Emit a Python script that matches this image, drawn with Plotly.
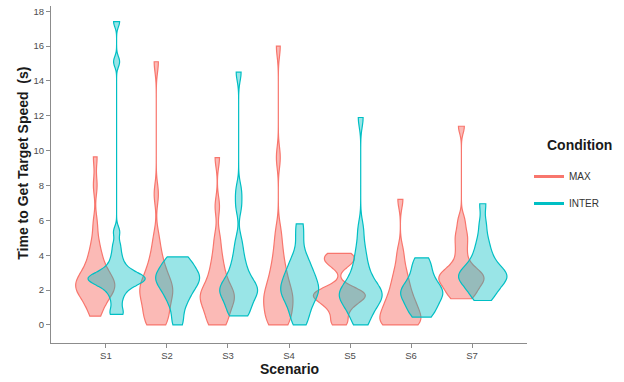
import plotly.graph_objects as go

scenarios = ["S1", "S2", "S3", "S4", "S5", "S6", "S7"]
conditions = ["MAX", "INTER"]

# Time to get target speed (s), per scenario, condition MAX
max_s1 = [0.5, 0.8, 1.1, 1.4, 1.6, 1.8, 1.9, 2.0, 2.1, 2.2, 2.3, 2.4, 2.5, 2.6, 2.7, 2.9, 3.1, 3.3, 3.6, 3.9, 4.3, 4.8, 5.8, 8.0, 9.64]
max_s2 = [0.0, 0.0, 0.2, 0.5, 0.8, 1.0, 1.2, 1.5, 1.7, 1.9, 2.0, 2.1, 2.3, 2.5, 2.7, 3.0, 3.3, 3.7, 4.2, 5.0, 7.5, 15.1]
max_s3 = [0.0, 0.0, 0.3, 0.6, 0.9, 1.1, 1.3, 1.5, 1.6, 1.7, 1.8, 2.0, 2.2, 2.5, 2.8, 3.2, 3.6, 4.2, 5.0, 6.8, 9.6]
max_s4 = [0.0, 0.0, 0.2, 0.4, 0.7, 0.9, 1.1, 1.3, 1.5, 1.6, 1.8, 2.0, 2.2, 2.5, 2.8, 3.1, 3.5, 4.0, 4.6, 5.4, 9.6, 16.0]
max_s5 = [0.0, 0.3, 0.7, 1.0, 1.2, 1.4, 1.5, 1.6, 1.7, 1.8, 1.9, 2.0, 2.2, 3.4, 3.6, 3.8, 4.0, 4.1]
max_s6 = [0.0, 0.0, 0.0, 0.0, 0.2, 0.4, 0.5, 0.7, 0.9, 1.0, 1.2, 1.4, 1.6, 1.9, 2.2, 2.5, 2.9, 3.4, 4.2, 7.2]
max_s7 = [1.5, 1.6, 1.8, 2.0, 2.2, 2.4, 2.5, 2.6, 2.7, 2.8, 2.9, 3.0, 3.2, 3.4, 3.9, 4.4, 4.9, 5.3, 6.0, 11.4]

# condition INTER
inter_s1 = [0.6, 0.7, 1.2, 1.6, 1.9, 2.1, 2.3, 2.4, 2.5, 2.55, 2.6, 2.65, 2.7, 2.75, 2.8, 2.9, 3.0, 3.2, 3.4, 3.7, 4.1, 4.6, 5.35, 15.1, 17.4]
inter_s2 = [0.0, 0.4, 1.0, 1.3, 1.6, 1.8, 2.0, 2.2, 2.3, 2.5, 2.6, 2.7, 2.8, 2.9, 3.0, 3.2, 3.4, 3.6, 3.8, 3.9]
inter_s3 = [0.52, 0.6, 0.8, 1.1, 1.4, 1.6, 1.8, 1.9, 2.0, 2.1, 2.2, 2.4, 2.6, 2.9, 3.2, 3.6, 4.1, 4.8, 6.8, 7.7, 14.5]
inter_s4 = [0.0, 0.3, 0.7, 1.0, 1.3, 1.5, 1.7, 1.9, 2.0, 2.1, 2.3, 2.5, 2.7, 2.9, 3.1, 3.4, 3.7, 4.1, 5.0, 5.8]
inter_s5 = [0.0, 0.2, 0.6, 0.9, 1.1, 1.3, 1.5, 1.6, 1.7, 1.8, 1.9, 2.0, 2.2, 2.4, 2.7, 3.0, 3.4, 3.9, 4.5, 5.5, 11.9]
inter_s6 = [0.45, 0.6, 0.8, 1.0, 1.2, 1.4, 1.6, 1.7, 1.8, 1.9, 2.0, 2.1, 2.3, 2.5, 2.7, 3.0, 3.3, 3.6, 3.85]
inter_s7 = [1.4, 1.6, 1.9, 2.1, 2.3, 2.5, 2.6, 2.7, 2.8, 2.9, 3.0, 3.1, 3.3, 3.5, 3.8, 4.1, 4.5, 5.0, 5.8, 6.95]

max_data = [max_s1, max_s2, max_s3, max_s4, max_s5, max_s6, max_s7]
inter_data = [inter_s1, inter_s2, inter_s3, inter_s4, inter_s5, inter_s6, inter_s7]

# styling: kernel bandwidths and drawn widths (category units) per violin
max_bw = [0.55, 0.6, 0.55, 0.6, 0.3, 0.5, 0.4]
inter_bw = [0.3, 0.45, 0.5, 0.5, 0.55, 0.45, 0.45]
max_width = [0.64, 0.54, 0.56, 0.48, 0.85, 0.67, 0.74]
inter_width = [0.93, 0.72, 0.62, 0.62, 0.70, 0.69, 0.79]

colors = {"MAX": "#F8766D", "INTER": "#00BFC4"}
fills = {"MAX": "rgba(248,118,109,0.5)", "INTER": "rgba(0,191,196,0.4)"}
dodge = {"MAX": -0.175, "INTER": 0.175}

fig = go.Figure()
for cond, data, bws, wids in [("MAX", max_data, max_bw, max_width),
                              ("INTER", inter_data, inter_bw, inter_width)]:
    for i, vals in enumerate(data):
        fig.add_trace(go.Violin(
            x=[i + dodge[cond]] * len(vals),
            y=vals,
            name=cond,
            legendgroup=cond,
            showlegend=False,
            spanmode="hard",
            bandwidth=bws[i],
            width=wids[i],
            points=False,
            line=dict(color=colors[cond], width=1.2),
            fillcolor=fills[cond],
            hoveron="violins",
        ))

for cond in conditions:
    fig.add_trace(go.Scatter(
        x=[None], y=[None], mode="lines", name=cond, legendgroup=cond,
        line=dict(color=colors[cond], width=3),
    ))

FONT = "Liberation Sans, Arial"
tickfont = dict(family=FONT, size=9.5, color="#4d4d4d")
titlefont = dict(family=FONT, size=14, color="#1a1a1a")

# plot area in pixels: x 51..527, y 6..343
fig.update_layout(
    width=624, height=382,
    margin=dict(l=51, r=97, t=6, b=39),
    plot_bgcolor="white", paper_bgcolor="white",
    violinmode="overlay",
    xaxis=dict(
        range=[-0.9, 6.9], tickmode="array",
        tickvals=list(range(len(scenarios))), ticktext=scenarios,
        showline=True, linecolor="#8c8c8c", linewidth=1,
        ticks="outside", ticklen=4, tickcolor="#8c8c8c",
        showgrid=False, zeroline=False, tickfont=tickfont,
        automargin=False,
    ),
    yaxis=dict(
        range=[-1.04, 18.3], tickmode="array",
        tickvals=list(range(0, 19, 2)),
        showline=True, linecolor="#8c8c8c", linewidth=1,
        ticks="outside", ticklen=4, tickcolor="#8c8c8c",
        showgrid=False, zeroline=False, tickfont=tickfont,
        automargin=False,
    ),
    legend=dict(
        x=(529 - 51) / 476, xanchor="left", y=(343 - 162) / 337, yanchor="top",
        font=dict(family=FONT, size=10, color="#333333"),
        tracegroupgap=8, itemwidth=30, bgcolor="rgba(0,0,0,0)",
    ),
    annotations=[
        dict(text="<b>Scenario</b>", xref="paper", yref="paper",
             x=0.5, y=(343 - 369) / 337, xanchor="center", yanchor="middle",
             showarrow=False, font=titlefont),
        dict(text="<b>Time to Get Target Speed  (s)</b>", xref="paper", yref="paper",
             x=(22.7 - 51) / 476, y=(343 - 163) / 337, xanchor="center", yanchor="middle",
             textangle=-90, showarrow=False, font=titlefont),
        dict(text="<b>Condition</b>", xref="paper", yref="paper",
             x=(545 - 51) / 476, y=(343 - 145) / 337, xanchor="left", yanchor="middle",
             showarrow=False, font=titlefont),
    ],
)

fig.write_html(
    "out.html",
    config={"displayModeBar": False},
    post_script="document.body.style.margin='0px';document.body.style.overflow='hidden';",
)
